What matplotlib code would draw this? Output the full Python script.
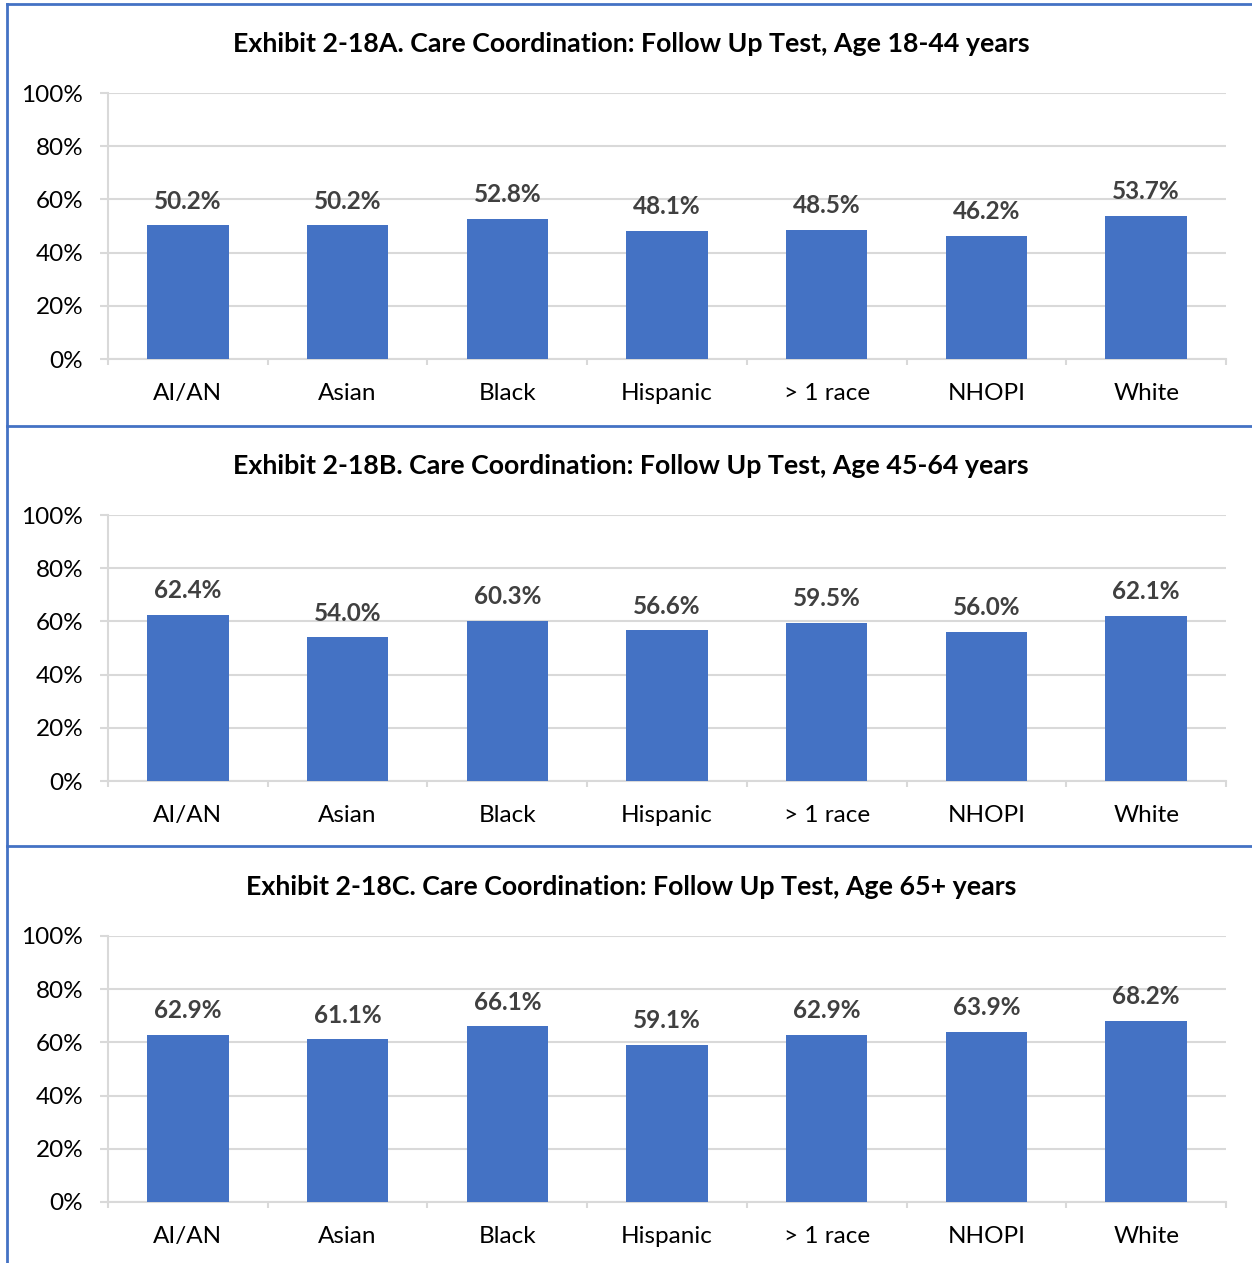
import matplotlib
matplotlib.use("Agg")
import matplotlib.pyplot as plt
from matplotlib.lines import Line2D
from matplotlib.ticker import FixedLocator, PercentFormatter

plt.rcParams['font.family'] = ['Lato', 'DejaVu Sans']

categories = ["AI/AN", "Asian", "Black", "Hispanic", "> 1 race", "NHOPI", "White"]
age_18_44 = [50.2, 50.2, 52.8, 48.1, 48.5, 46.2, 53.7]
age_45_64 = [62.4, 54.0, 60.3, 56.6, 59.5, 56.0, 62.1]
age_65_up = [62.9, 61.1, 66.1, 59.1, 62.9, 63.9, 68.2]
titles = [
    "Exhibit 2-18A. Care Coordination: Follow Up Test, Age 18-44 years",
    "Exhibit 2-18B. Care Coordination: Follow Up Test, Age 45-64 years",
    "Exhibit 2-18C. Care Coordination: Follow Up Test, Age 65+ years",
]
series = [age_18_44, age_45_64, age_65_up]
y_ticks = [0, 20, 40, 60, 80, 100]

W, H = 1252, 1263
fig = plt.figure(figsize=(W / 100, H / 100), dpi=100)

BAR = "#4472C4"
GRID = "#D9D9D9"
LABEL = "#404040"

# pixel layout of each panel: (axes top, axes bottom, title y)
panels = [(93, 359, 44), (515, 781, 466), (936, 1202, 887)]
ax_left, ax_right = 108, 1226

for (top, bottom, ty), title, vals in zip(panels, titles, series):
    ax = fig.add_axes([ax_left / W, 1 - bottom / H, (ax_right - ax_left) / W, (bottom - top) / H])
    x = range(len(categories))
    bars = ax.bar(x, vals, width=0.51, color=BAR, zorder=3)
    for rect, v in zip(bars, vals):
        ax.annotate(f"{v:.1f}%", (rect.get_x() + rect.get_width() / 2, v),
                    xytext=(0, 12), textcoords="offset points", ha="center", va="baseline",
                    fontsize=17.5, fontweight="bold", color=LABEL, zorder=4)
    ax.set_xlim(-0.5, len(categories) - 0.5)
    ax.set_ylim(0, 100)
    ax.set_yticks(y_ticks)
    ax.yaxis.set_major_formatter(PercentFormatter(decimals=0))
    ax.set_xticks(list(x))
    ax.set_xticklabels(categories, va="center")
    ax.xaxis.set_minor_locator(FixedLocator([i - 0.5 for i in range(len(categories) + 1)]))
    ax.tick_params(axis="x", which="major", length=0, pad=25, labelsize=17.5, labelcolor="#000000")
    ax.tick_params(axis="x", which="minor", length=4.5, width=1.5, color=GRID)
    ax.tick_params(axis="y", length=5.8, width=1.5, color=GRID, pad=12, labelsize=17.5, labelcolor="#000000")
    ax.grid(axis="y", color=GRID, linewidth=1.5, zorder=0)
    for s in ("top", "right"):
        ax.spines[s].set_visible(False)
    for s in ("left", "bottom"):
        ax.spines[s].set_color(GRID)
        ax.spines[s].set_linewidth(1.5)
    fig.text(631 / W, 1 - ty / H, title, ha="center", va="center",
             fontsize=19.3, fontweight="bold", color="#000000")

# panel frames
def hline(ypix, x0=7, x1=W):
    fig.add_artist(Line2D([x0 / W, x1 / W], [1 - ypix / H, 1 - ypix / H],
                          transform=fig.transFigure, color=BAR, linewidth=2))

hline(4)
hline(426)
hline(846)
fig.add_artist(Line2D([7 / W, 7 / W], [1 - 4 / H, 0], transform=fig.transFigure,
                      color=BAR, linewidth=2))

fig.savefig("out.png", dpi=100, facecolor="white")
